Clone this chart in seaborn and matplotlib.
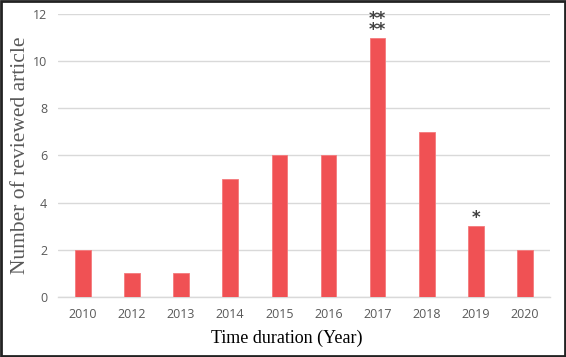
import matplotlib
matplotlib.use("Agg")
import matplotlib.pyplot as plt
import pandas as pd
import seaborn as sns
from matplotlib.patches import Rectangle

YEARS = ["2010", "2012", "2013", "2014", "2015", "2016", "2017", "2018", "2019", "2020"]
COUNTS = [2, 1, 1, 5, 6, 6, 11, 7, 3, 2]
MARKS = {"2017": "**\n**", "2019": "*"}

BAR = "#F05154"
GRID = "#D9D9D9"
TICK = "#595959"


def main() -> None:
    sns.set_style("white")
    df = pd.DataFrame({"year": YEARS, "count": COUNTS})

    fig = plt.figure(figsize=(5.66, 3.57), dpi=100)
    ax = fig.add_axes([0.103, 0.168, 0.868, 0.793])
    sns.barplot(data=df, x="year", y="count", color=BAR, width=0.32,
                edgecolor="#F47A7C", linewidth=0.6, saturation=1, ax=ax, zorder=3)

    ax.set_ylim(0, 12)
    ax.set_yticks(range(0, 13, 2))
    ax.yaxis.grid(True, color=GRID, linewidth=1.0, zorder=0)
    ax.set_axisbelow(True)
    for side in ["top", "right", "left"]:
        ax.spines[side].set_visible(False)
    ax.spines["bottom"].set_color(GRID)
    ax.spines["bottom"].set_linewidth(1.0)
    ax.tick_params(axis="both", length=0, labelsize=9, labelcolor=TICK, pad=8)
    for lab in ax.get_xticklabels() + ax.get_yticklabels():
        lab.set_fontfamily("Open Sans")

    ax.set_xlabel("Time duration (Year)", fontsize=13, family="Liberation Serif",
                  color="black")
    ax.xaxis.set_label_coords(0.464, -0.115)
    ax.set_ylabel("Number of reviewed article", fontsize=15.5, family="Liberation Serif",
                  color=TICK)
    ax.yaxis.set_label_coords(-0.058, 0.5)

    for i, (yr, c) in enumerate(zip(YEARS, COUNTS)):
        if yr in MARKS:
            ax.text(i, c - 0.05, MARKS[yr], ha="center", va="bottom", fontsize=12,
                    color="#404040", linespacing=0.5, family="DejaVu Sans",
                    fontweight="bold")

    fig.patches.append(Rectangle((0.002, 0.003), 0.996, 0.994, transform=fig.transFigure,
                                 fill=False, edgecolor="#222222", linewidth=2))
    fig.savefig("out.png", dpi=100)
    plt.close(fig)


if __name__ == "__main__":
    main()
